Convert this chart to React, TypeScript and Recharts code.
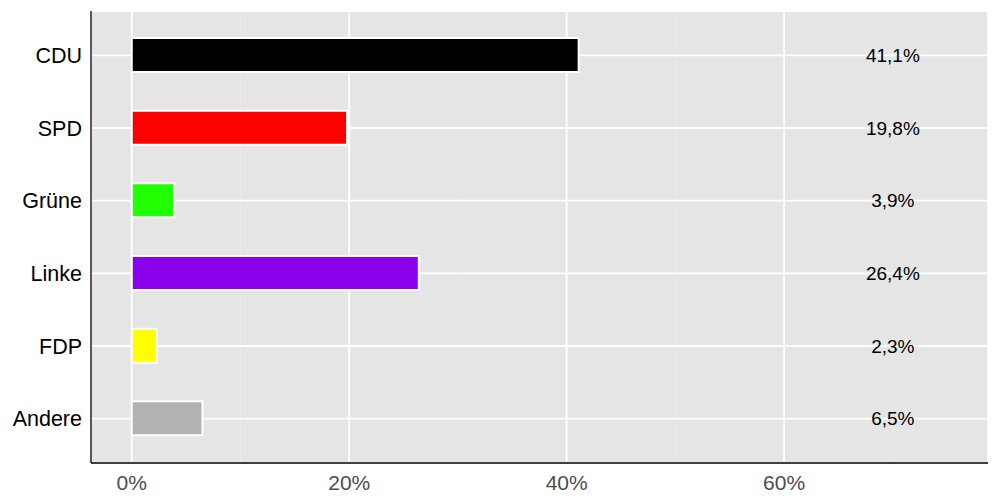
import { BarChart, Bar, XAxis, YAxis, CartesianGrid, Cell, ReferenceDot } from 'recharts'

const parties = ['CDU', 'SPD', 'Grüne', 'Linke', 'FDP', 'Andere']
const shares = [41.1, 19.8, 3.9, 26.4, 2.3, 6.5]
const partyColors = ['#000000', '#ff0000', '#22ff00', '#8b00ea', '#ffff00', '#b2b2b2']
const xTicks = [0, 20, 40, 60]
const xMinorTicks = [10, 30, 50, 70]
const LABEL_X = 70 // value labels sit in a column at 70 %

const data = parties.map((name, i) => ({ name, share: shares[i] }))

const fmtShare = (v: number) => `${v.toFixed(1).replace('.', ',')}%`

export default function App() {
  return (
    <div style={{ position: 'absolute', left: 0, top: 0, width: 1000, height: 500, background: '#fff' }}>
      <BarChart
        width={1000}
        height={500}
        data={data}
        layout="vertical"
        margin={{ top: 11, right: 12, bottom: 0, left: 0 }}
        style={{ fontFamily: '"Liberation Sans", Arial, sans-serif' }}
      >
        {/* panel + faint minor lines first, major white grid on top */}
        <CartesianGrid fill="#e5e5e5" horizontal={false} verticalValues={xMinorTicks} stroke="#eaeaea" strokeWidth={1} />
        <CartesianGrid stroke="#ffffff" strokeWidth={1.8} />
        <XAxis
          type="number"
          domain={[-3.75, 78.75]}
          allowDataOverflow
          ticks={xTicks}
          tickFormatter={(v) => `${v}%`}
          height={37}
          tickLine={false}
          tickSize={0}
          tickMargin={12}
          axisLine={{ stroke: '#000', strokeWidth: 1.3 }}
          tick={{ fontSize: 21, fill: '#4d4d4d' }}
        />
        <YAxis
          type="category"
          dataKey="name"
          width={91}
          padding={{ top: 8, bottom: 8 }}
          tickLine={false}
          tickSize={0}
          tickMargin={9}
          axisLine={{ stroke: '#000', strokeWidth: 1.3 }}
          tick={{ fontSize: 21.5, fill: '#000' }}
        />
        <Bar dataKey="share" barSize={34} stroke="#ffffff" strokeWidth={2} isAnimationActive={false}>
          {data.map((d, i) => (
            <Cell key={d.name} fill={partyColors[i]} />
          ))}
        </Bar>
        {data.map((d) => (
          <ReferenceDot
            key={d.name}
            x={LABEL_X}
            y={d.name}
            r={0}
            fill="none"
            stroke="none"
            label={{ value: fmtShare(d.share), position: 'center', fontSize: 19, fill: '#000' }}
          />
        ))}
      </BarChart>
    </div>
  )
}
